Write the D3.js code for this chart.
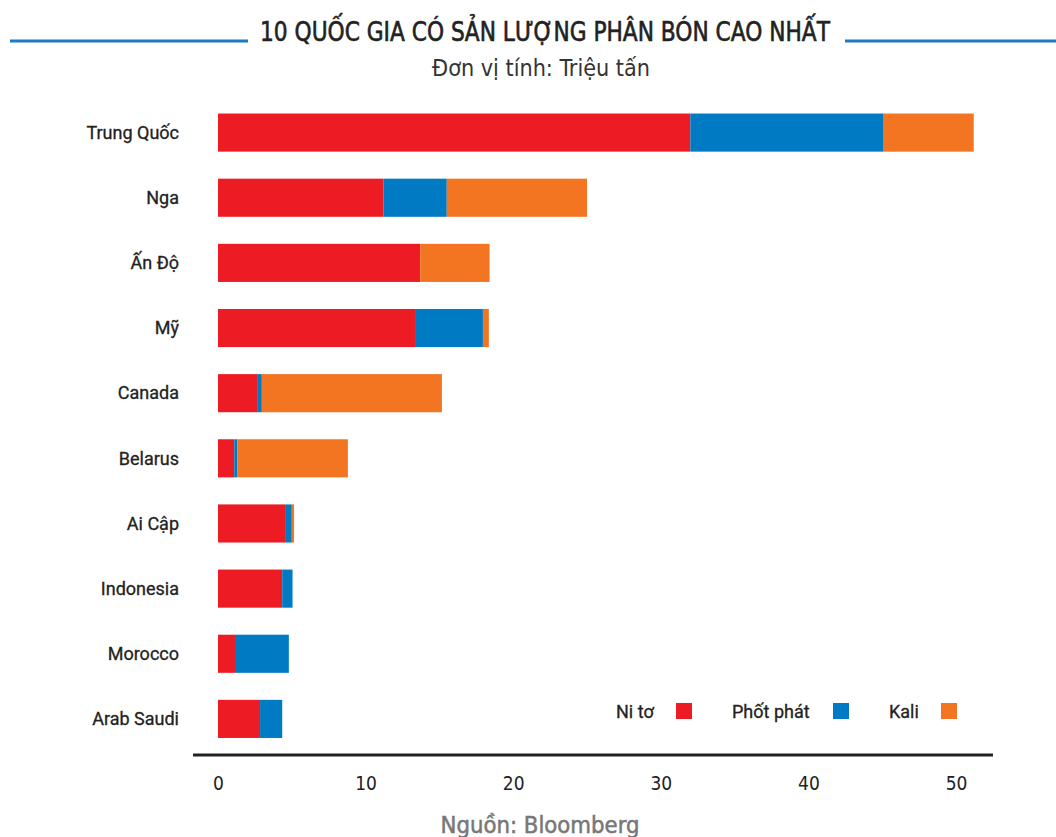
<!DOCTYPE html>
<html><head><meta charset="utf-8">
<script src="https://cdn.jsdelivr.net/npm/d3@7/dist/d3.min.js"></script>
<style>body{margin:0;background:#fff}svg{display:block}</style>
</head><body>
<script>
const countries = ["Trung Quốc","Nga","Ấn Độ","Mỹ","Canada","Belarus","Ai Cập","Indonesia","Morocco","Arab Saudi"];
const nito      = [32.0, 11.2, 13.7, 13.35, 2.7, 1.1, 4.6, 4.35, 1.15, 2.85];
const photphat  = [13.1, 4.3, 0, 4.6, 0.27, 0.2, 0.4, 0.7, 3.65, 1.5];
const kali      = [6.1, 9.5, 4.7, 0.4, 12.2, 7.5, 0.15, 0, 0, 0];
const seriesNames = ["Ni tơ","Phốt phát","Kali"];
const seriesColors = ["#ED1C24","#007AC2","#F37421"];
const xTicks = [0,10,20,30,40,50];
const title = "10 QUỐC GIA CÓ SẢN LƯỢNG PHÂN BÓN CAO NHẤT";
const subtitle = "Đơn vị tính: Triệu tấn";
const source = "Nguồn: Bloomberg";

const W = 1056, H = 837;
const svg = d3.select("body").append("svg").attr("width", W).attr("height", H);
const cond = "'Liberation Sans Narrow','DejaVu Sans Condensed',sans-serif";

const x = d3.scaleLinear().domain([0,50]).range([218,956]);
const y = d3.scaleBand().domain(countries).range([100.5,751]).paddingInner(0.415).paddingOuter(0.2);

const rows = countries.map((c,i)=>({country:c, nito:nito[i], photphat:photphat[i], kali:kali[i]}));
const stack = d3.stack().keys(["nito","photphat","kali"])(rows);

svg.append("g").selectAll("g").data(stack).join("g")
  .attr("fill",(d,i)=>seriesColors[i])
  .selectAll("rect").data(d=>d).join("rect")
  .attr("x",d=>x(d[0])).attr("width",d=>x(d[1])-x(d[0]))
  .attr("y",d=>y(d.data.country)).attr("height",y.bandwidth());

// country labels
svg.append("g").selectAll("text").data(countries).join("text")
  .attr("x",179).attr("y",d=>y(d)+y.bandwidth()/2)
  .attr("dy","0.35em").attr("text-anchor","end")
  .attr("font-family","Roboto, sans-serif").attr("font-size",18).attr("fill","#222")
  .attr("stroke","#222").attr("stroke-width",0.3)
  .text(d=>d);

// x axis
const ax = svg.append("g").attr("transform","translate(0,755)")
  .call(d3.axisBottom(x).tickValues(xTicks).tickSize(0).tickPadding(22));
ax.select(".domain").remove();
ax.selectAll("text").attr("font-family",cond).attr("font-size",19).attr("fill","#222");
svg.append("line").attr("x1",193).attr("x2",993).attr("y1",755).attr("y2",755)
  .attr("stroke","#222").attr("stroke-width",3);

// title
svg.append("text").attr("x",545).attr("y",41).attr("text-anchor","middle")
  .attr("font-family",cond).attr("font-size",27).attr("fill","#222")
  .attr("stroke","#222").attr("stroke-width",0.6)
  .attr("textLength",570).attr("lengthAdjust","spacingAndGlyphs").text(title);
svg.append("line").attr("x1",10).attr("x2",248).attr("y1",41).attr("y2",41).attr("stroke","#1B7BC4").attr("stroke-width",3);
svg.append("line").attr("x1",845).attr("x2",1056).attr("y1",41).attr("y2",41).attr("stroke","#1B7BC4").attr("stroke-width",3);
svg.append("text").attr("x",541).attr("y",76).attr("text-anchor","middle")
  .attr("font-family",cond).attr("font-size",23).attr("fill","#333")
  .attr("textLength",218).attr("lengthAdjust","spacingAndGlyphs").text(subtitle);

// source
svg.append("text").attr("x",540).attr("y",833).attr("text-anchor","middle")
  .attr("font-family",cond).attr("font-size",23).attr("fill","#777")
  .attr("stroke","#777").attr("stroke-width",0.5)
  .attr("textLength",199).attr("lengthAdjust","spacingAndGlyphs").text(source);

// legend
const legX = [[616,676],[732,833],[889,941]];
const leg = svg.append("g");
seriesNames.forEach((n,i)=>{
  leg.append("text").attr("x",legX[i][0]).attr("y",718)
    .attr("font-family","Roboto, sans-serif").attr("font-size",18).attr("fill","#222")
    .attr("stroke","#222").attr("stroke-width",0.3).text(n);
  leg.append("rect").attr("x",legX[i][1]).attr("y",703).attr("width",16).attr("height",16).attr("fill",seriesColors[i]);
});
</script>
</body></html>
